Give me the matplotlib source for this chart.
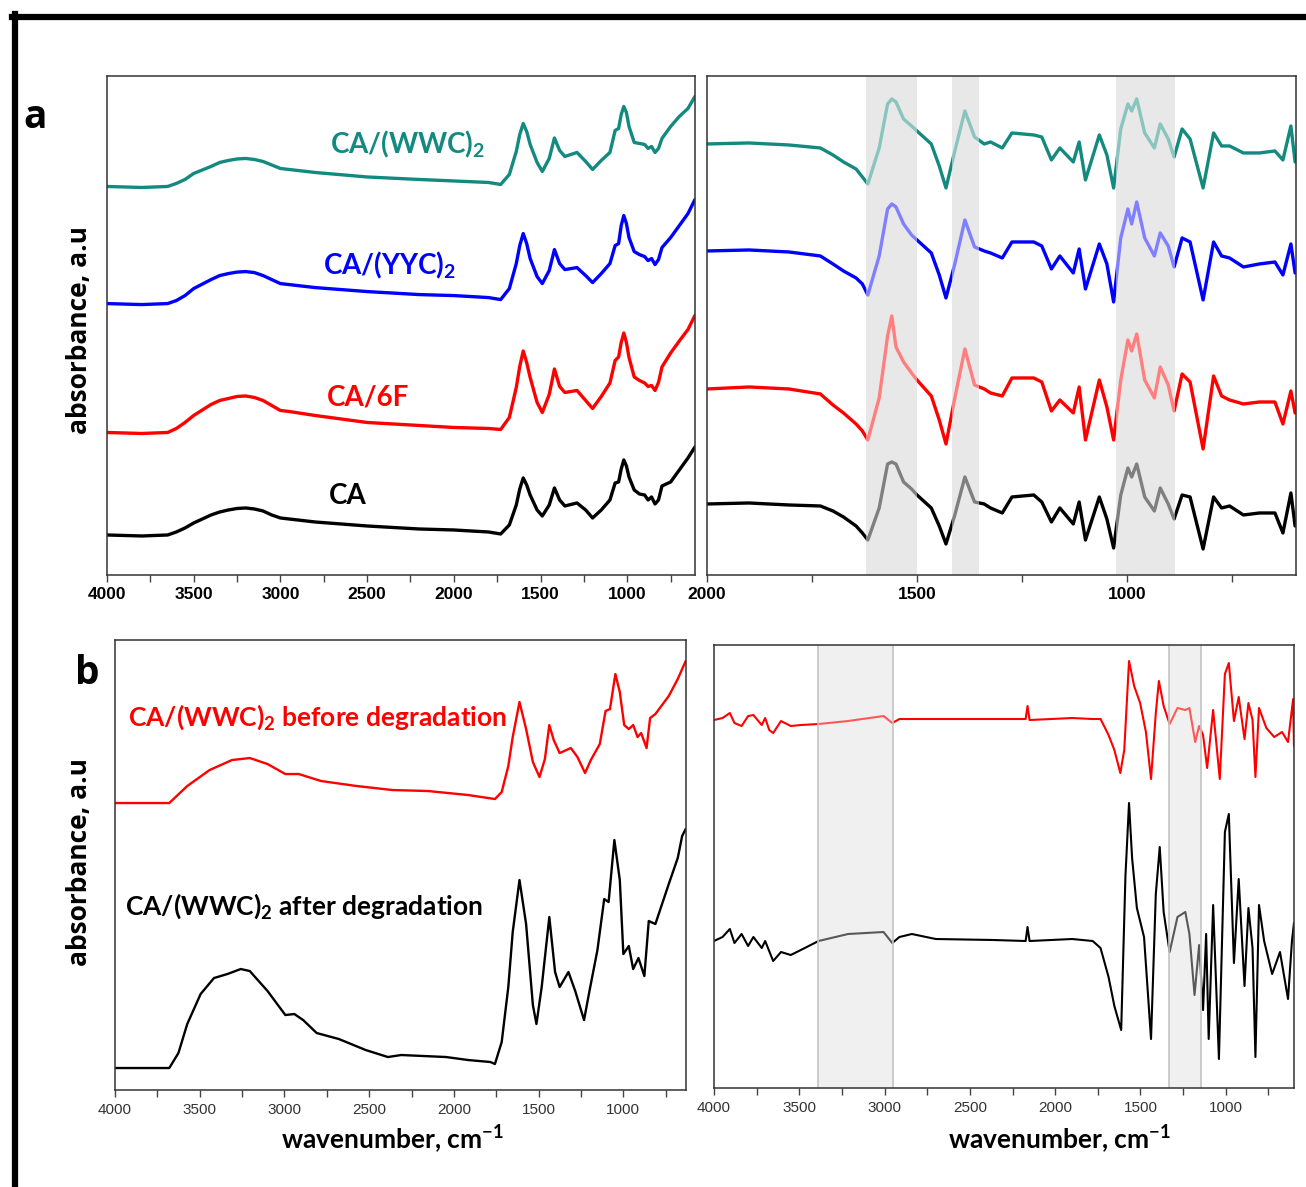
import matplotlib
matplotlib.use('Agg')
import matplotlib.pyplot as plt
from matplotlib.lines import Line2D
from matplotlib.ticker import MultipleLocator
import numpy as np

plt.rcParams['font.family'] = ['Lato', 'DejaVu Sans']
plt.rcParams['mathtext.fontset'] = 'custom'
plt.rcParams['mathtext.rm'] = 'Lato:bold'
plt.rcParams['mathtext.it'] = 'Lato:bold'
plt.rcParams['mathtext.bf'] = 'Lato:bold'

# ---------------- data ----------------
# panel a, full range spectra (height above each trace's own baseline)
wn_a = [4000, 3800, 3650, 3600, 3550, 3500, 3400, 3350, 3300, 3250, 3200, 3150, 3100, 3050,
        3000, 2950, 2800, 2500, 2200, 2000, 1800, 1730, 1680, 1640, 1620, 1600, 1580, 1560,
        1520, 1490, 1450, 1420, 1390, 1360, 1290, 1240, 1200, 1150, 1100, 1070, 1050, 1035,
        1020, 1005, 990, 960, 930, 900, 880, 860, 840, 820, 800, 750, 700, 650, 610]
ca_a = [0, -0.01, 0, 0.03, 0.07, 0.12, 0.20, 0.23, 0.25, 0.265, 0.27, 0.26, 0.24, 0.20,
        0.17, 0.16, 0.13, 0.09, 0.06, 0.05, 0.03, 0.01, 0.10, 0.30, 0.46, 0.57, 0.50, 0.40,
        0.25, 0.19, 0.30, 0.47, 0.35, 0.29, 0.32, 0.25, 0.17, 0.25, 0.35, 0.52, 0.53, 0.66,
        0.75, 0.69, 0.58, 0.45, 0.41, 0.40, 0.35, 0.38, 0.31, 0.35, 0.49, 0.53, 0.65, 0.77,
        0.88]
ca6f_a = [0, -0.01, 0, 0.04, 0.10, 0.17, 0.28, 0.32, 0.34, 0.36, 0.365, 0.35, 0.32, 0.27,
          0.22, 0.21, 0.17, 0.10, 0.07, 0.05, 0.04, 0.03, 0.15, 0.45, 0.66, 0.815, 0.70, 0.55,
          0.30, 0.20, 0.38, 0.635, 0.46, 0.40, 0.42, 0.32, 0.24, 0.36, 0.495, 0.72, 0.755,
          0.90, 0.995, 0.90, 0.75, 0.555, 0.52, 0.495, 0.46, 0.47, 0.42, 0.50, 0.655, 0.795,
          0.915, 1.03, 1.17]
yyc_a = [0, -0.01, 0, 0.03, 0.08, 0.15, 0.24, 0.28, 0.30, 0.315, 0.32, 0.31, 0.28, 0.24,
         0.20, 0.19, 0.16, 0.12, 0.09, 0.08, 0.06, 0.04, 0.15, 0.40, 0.58, 0.70, 0.60, 0.45,
         0.27, 0.20, 0.33, 0.54, 0.40, 0.34, 0.36, 0.28, 0.21, 0.30, 0.40, 0.58, 0.60, 0.78,
         0.88, 0.80, 0.66, 0.52, 0.49, 0.47, 0.43, 0.45, 0.39, 0.44, 0.56, 0.66, 0.78, 0.90,
         1.04]
wwc_a = [0, -0.01, 0, 0.03, 0.07, 0.13, 0.20, 0.24, 0.26, 0.275, 0.28, 0.27, 0.25, 0.215,
         0.18, 0.17, 0.14, 0.095, 0.07, 0.055, 0.04, 0.02, 0.12, 0.35, 0.52, 0.63, 0.55, 0.42,
         0.24, 0.15, 0.28, 0.485, 0.36, 0.30, 0.34, 0.25, 0.17, 0.26, 0.34, 0.56, 0.58, 0.72,
         0.80, 0.74, 0.60, 0.44, 0.43, 0.42, 0.38, 0.40, 0.34, 0.38, 0.48, 0.60, 0.70, 0.78,
         0.90]
offsets_a = [0.40, 1.425, 2.714, 3.885]

# panel a, fingerprint region (second derivative-like traces)
wn_a2 = [2000, 1900, 1805, 1730, 1700, 1675, 1645, 1630, 1617, 1590, 1570, 1560, 1550, 1532,
         1513, 1500, 1466, 1447, 1431, 1410, 1386, 1363, 1340, 1325, 1297, 1274, 1222, 1203,
         1180, 1160, 1128, 1114, 1099, 1066, 1048, 1032, 1015, 998, 989, 977, 958, 935, 921,
         902, 888, 869, 850, 819, 794, 775, 756, 723, 685, 648, 629, 610, 600]
ca_a2 = [0, 0.01, -0.01, -0.02, -0.07, -0.13, -0.22, -0.29, -0.36, -0.04, 0.40, 0.42, 0.40,
         0.22, 0.15, 0.09, -0.04, -0.22, -0.40, -0.11, 0.27, 0.02, 0, -0.04, -0.09, 0.07, 0.09,
         0.02, -0.18, -0.04, -0.20, 0.02, -0.36, 0.07, -0.15, -0.44, 0.09, 0.36, 0.27, 0.40,
         0.07, -0.07, 0.16, 0, -0.15, 0.09, 0.07, -0.45, 0.07, -0.04, -0.02, -0.11, -0.09,
         -0.09, -0.29, 0.11, -0.22]
ca6f_a2 = [0, 0.02, 0, -0.05, -0.16, -0.24, -0.35, -0.42, -0.51, -0.09, 0.53, 0.73, 0.42, 0.27,
           0.16, 0.09, -0.07, -0.31, -0.55, -0.09, 0.40, 0.04, 0, -0.04, -0.07, 0.11, 0.11,
           0.07, -0.22, -0.11, -0.24, 0.02, -0.51, 0.09, -0.18, -0.51, 0.09, 0.49, 0.38, 0.55,
           0.09, -0.09, 0.22, 0.04, -0.22, 0.15, 0.07, -0.60, 0.13, -0.07, -0.11, -0.15,
           -0.13, -0.13, -0.35, -0.02, -0.24]
yyc_a2 = [0, 0.01, -0.01, -0.05, -0.13, -0.20, -0.27, -0.33, -0.44, -0.05, 0.42, 0.47, 0.44,
          0.27, 0.16, 0.11, -0.02, -0.24, -0.47, -0.13, 0.31, 0.04, 0, -0.02, -0.07, 0.09,
          0.09, 0.05, -0.18, -0.05, -0.22, 0.02, -0.38, 0.07, -0.13, -0.51, 0.13, 0.42, 0.27,
          0.49, 0.13, -0.05, 0.18, 0.05, -0.16, 0.13, 0.09, -0.49, 0.09, -0.05, -0.07, -0.16,
          -0.13, -0.11, -0.24, 0.07, -0.22]
wwc_a2 = [0, 0.01, -0.01, -0.04, -0.11, -0.18, -0.25, -0.33, -0.40, -0.04, 0.40, 0.45, 0.42,
          0.25, 0.18, 0.13, 0, -0.22, -0.44, -0.07, 0.33, 0.07, 0, 0.02, -0.04, 0.11, 0.09,
          0.07, -0.16, -0.04, -0.18, 0.02, -0.36, 0.09, -0.11, -0.44, 0.15, 0.40, 0.33, 0.45,
          0.11, -0.04, 0.20, 0.05, -0.13, 0.15, 0.05, -0.44, 0.11, -0.02, -0.02, -0.09, -0.09,
          -0.07, -0.16, 0.18, -0.18]
offsets_a2 = [0.71, 1.86, 3.24, 4.31]
spans_a2 = [(1622, 1499), (1417, 1353), (1026, 885)]

names_a = ['CA', 'CA/6F', 'CA/(YYC)$_2$', 'CA/(WWC)$_2$']
colors_a = ['#000000', '#ff0000', '#0000ff', '#138a80']

# panel b, before / after degradation
wn_before = [4000, 3680, 3574, 3442, 3310, 3205, 3100, 2995, 2916, 2784, 2574, 2363, 2153, 1916,
             1758, 1718, 1679, 1653, 1613, 1574, 1534, 1495, 1463, 1437, 1411, 1376, 1310,
             1271, 1226, 1192, 1139, 1105, 1079, 1047, 1021, 995, 968, 942, 916, 895, 863,
             842, 811, 732, 679, 632]
before = [0, 0, 0.17, 0.33, 0.43, 0.45, 0.39, 0.29, 0.29, 0.22, 0.17, 0.13, 0.12, 0.08, 0.04,
          0.11, 0.37, 0.66, 1.01, 0.74, 0.41, 0.26, 0.44, 0.78, 0.63, 0.50, 0.55, 0.46, 0.30,
          0.43, 0.59, 0.92, 0.94, 1.29, 1.11, 0.78, 0.74, 0.78, 0.66, 0.70, 0.55, 0.85, 0.89,
          1.07, 1.24, 1.42]
wn_after = [4000, 3680, 3626, 3574, 3495, 3416, 3337, 3258, 3205, 3100, 2995, 2942, 2890, 2810,
            2679, 2521, 2390, 2311, 2047, 1916, 1784, 1758, 1718, 1679, 1653, 1613, 1574, 1534,
            1513, 1482, 1437, 1403, 1376, 1324, 1284, 1232, 1200, 1153, 1113, 1087, 1053,
            1021, 1000, 968, 942, 911, 876, 850, 811, 732, 679, 653, 632]
after = [0, 0, 0.15, 0.44, 0.74, 0.90, 0.94, 0.99, 0.97, 0.77, 0.53, 0.54, 0.48, 0.35, 0.29,
         0.18, 0.11, 0.13, 0.11, 0.08, 0.06, 0.04, 0.26, 0.81, 1.36, 1.88, 1.44, 0.63, 0.44,
         0.81, 1.51, 0.96, 0.81, 0.96, 0.77, 0.48, 0.77, 1.18, 1.69, 1.66, 2.28, 1.88, 1.14,
         1.22, 0.99, 1.10, 0.92, 1.47, 1.44, 1.84, 2.10, 2.32, 2.39]
offsets_b = [2.87, 0.22]

wn_before2 = [4000, 3950, 3907, 3880, 3838, 3800, 3769, 3720, 3700, 3676, 3653, 3607, 3550,
              3491, 3387, 3214, 3006, 2955, 2913, 2520, 2173, 2162, 2150, 1900, 1780, 1734,
              1687, 1653, 1618, 1595, 1567, 1537, 1502, 1468, 1438, 1410, 1392, 1364, 1329,
              1283, 1237, 1213, 1179, 1156, 1133, 1109, 1074, 1035, 1005, 982, 952, 924, 890,
              867, 843, 826, 805, 762, 716, 670, 635, 605, 600]
before2 = [0, 0.02, 0.07, -0.03, -0.06, 0.04, 0.05, -0.05, 0.02, -0.10, -0.13, -0.01, -0.06,
           -0.05, -0.04, -0.01, 0.04, -0.03, 0.01, 0.01, 0.01, 0.14, 0, 0.02, 0.01, 0.01,
           -0.15, -0.30, -0.53, -0.30, 0.59, 0.34, 0.17, -0.12, -0.59, 0.07, 0.39, 0.14,
           -0.04, 0.12, 0.10, 0.12, -0.22, -0.06, -0.15, -0.48, 0.10, -0.59, 0.46, 0.57, -0.01,
           0.23, -0.19, 0.17, 0, -0.57, 0.12, -0.08, -0.17, -0.12, -0.22, 0.21, -0.26]
wn_after2 = [4000, 3950, 3907, 3880, 3838, 3800, 3769, 3720, 3700, 3653, 3607, 3550, 3491, 3387,
             3214, 3006, 2955, 2913, 2840, 2700, 2360, 2173, 2162, 2150, 1900, 1780, 1734,
             1687, 1653, 1613, 1588, 1567, 1549, 1521, 1479, 1438, 1410, 1387, 1364, 1329,
             1283, 1237, 1213, 1183, 1156, 1133, 1115, 1100, 1074, 1040, 1005, 982, 952, 924,
             890, 867, 843, 826, 805, 775, 728, 682, 635, 612, 600]
after2 = [0, 0.04, 0.12, -0.02, 0.07, -0.05, 0.04, -0.07, 0, -0.20, -0.11, -0.14, -0.09, 0,
          0.07, 0.09, -0.02, 0.04, 0.07, 0.02, 0.01, 0, 0.14, 0, 0.02, 0, -0.07, -0.36, -0.65,
          -0.89, 0.65, 1.38, 0.83, 0.33, 0.04, -0.98, 0.47, 0.94, 0.29, -0.11, 0.24, 0.29,
          0.07, -0.54, -0.04, -0.69, 0.07, -0.98, 0.36, -1.18, 1.09, 1.27, -0.22, 0.62, -0.45,
          0.33, -0.07, -1.16, 0.36, 0, -0.33, -0.11, -0.58, 0, 0.18]
offsets_b2 = [3.68, 1.47]
spans_b2 = [(3390, 2950), (1335, 1145)]

names_b = ['CA/(WWC)$_2$ before degradation', 'CA/(WWC)$_2$ after degradation']
colors_b = ['#ff0000', '#000000']

# ---------------- figure ----------------
fig = plt.figure(figsize=(13.06, 11.87), dpi=100)


def style_axes(ax, xlim, ylim, major, minor, bold, size, color):
    ax.set_xlim(*xlim)
    ax.set_ylim(*ylim)
    ax.set_yticks([])
    ax.xaxis.set_major_locator(MultipleLocator(major))
    ax.xaxis.set_minor_locator(MultipleLocator(minor))
    ax.tick_params(axis='x', which='both', direction='out', length=5, width=1.0,
                   color='#444444', pad=4)
    for lab in ax.get_xticklabels():
        lab.set_fontfamily('Liberation Sans')
        lab.set_fontweight('bold' if bold else 'normal')
        lab.set_fontsize(size)
        lab.set_color(color)
    for sp in ax.spines.values():
        sp.set_linewidth(1.1)
        sp.set_color('#333333')
        sp.set_zorder(5)


def shade(ax, spans, under, alpha, edge=None):
    for lo, hi in spans:
        ax.axvspan(hi, lo, color=under, lw=0, zorder=0)
        ax.axvspan(hi, lo, color='white', alpha=alpha, lw=0, zorder=3)
        if edge:
            ax.axvline(lo, color=edge, lw=1.2, zorder=4)
            ax.axvline(hi, color=edge, lw=1.2, zorder=4)


line_kw = dict(solid_joinstyle='round', solid_capstyle='round', zorder=2)

# panel a left
ax1 = fig.add_axes([0.0819, 0.5156, 0.4502, 0.4204])
for rel, off, c in zip([ca_a, ca6f_a, yyc_a, wwc_a], offsets_a, colors_a):
    ax1.plot(wn_a, np.array(rel) + off, color=c, lw=2.4, **line_kw)
style_axes(ax1, (4000, 610), (0, 4.99), 500, 250, True, 12.5, 'black')
label_pos_a = [(0.41, 0.158), (0.444, 0.355), (0.481, 0.621), (0.512, 0.862)]
for name, c, (tx, ty) in zip(names_a, colors_a, label_pos_a):
    ax1.text(tx, ty, name, transform=ax1.transAxes, color=c, fontsize=20,
             fontweight='bold', ha='center', va='center')

# panel a right
ax2 = fig.add_axes([0.5413, 0.5156, 0.4510, 0.4204])
for rel, off, c in zip([ca_a2, ca6f_a2, yyc_a2, wwc_a2], offsets_a2, colors_a):
    ax2.plot(wn_a2, np.array(rel) + off, color=c, lw=2.4, **line_kw)
shade(ax2, spans_a2, '#d1d1d1', 0.5)
style_axes(ax2, (2000, 598), (0, 4.99), 500, 250, True, 12.5, 'black')

# panel b left
ax3 = fig.add_axes([0.0881, 0.0817, 0.4372, 0.3791])
for wn, rel, off, c in zip([wn_before, wn_after], [before, after], offsets_b, colors_b):
    ax3.plot(wn, np.array(rel) + off, color=c, lw=1.7, **line_kw)
style_axes(ax3, (4000, 630), (0, 4.50), 500, 250, False, 11, '#333333')
label_pos_b = [(0.023, 0.829), (0.0175, 0.409)]
for name, c, (tx, ty) in zip(names_b, colors_b, label_pos_b):
    ax3.text(tx, ty, name, transform=ax3.transAxes, color=c, fontsize=19,
             fontweight='bold', ha='left', va='center')

# panel b right
ax4 = fig.add_axes([0.5467, 0.0834, 0.4441, 0.3732])
for wn, rel, off, c in zip([wn_before2, wn_after2], [before2, after2], offsets_b2, colors_b):
    ax4.plot(wn, np.array(rel) + off, color=c, lw=1.5, **line_kw)
shade(ax4, spans_b2, '#e8e8e8', 0.35, edge='#c4c4c4')
style_axes(ax4, (4000, 600), (0, 4.43), 500, 250, False, 11, '#333333')

# shared texts
for yc in (330, 862):
    fig.text(79 / 1306, 1 - yc / 1187, 'absorbance, a.u', rotation=90, fontsize=19,
             fontfamily='Open Sans', fontweight='bold', ha='center', va='center')
for xc in (393, 1060):
    fig.text(xc / 1306, 1 - 1140 / 1187, 'wavenumber, cm$^{-1}$', fontsize=19,
             fontweight='bold', ha='center', va='center')
fig.text(35 / 1306, 1 - 118 / 1187, 'a', fontsize=28, fontfamily='Open Sans',
         fontweight='bold', ha='center', va='center')
fig.text(87 / 1306, 1 - 673 / 1187, 'b', fontsize=28, fontfamily='Open Sans',
         fontweight='bold', ha='center', va='center')

# outer frame (top and left edges visible)
fig.add_artist(Line2D([12 / 1306, 1.0], [1 - 17 / 1187, 1 - 17 / 1187],
                      transform=fig.transFigure, color='black', lw=4.5))
fig.add_artist(Line2D([15 / 1306, 15 / 1306], [0.0, 1 - 14 / 1187],
                      transform=fig.transFigure, color='black', lw=4.5))

fig.savefig('out.png', dpi=100, facecolor='white')
